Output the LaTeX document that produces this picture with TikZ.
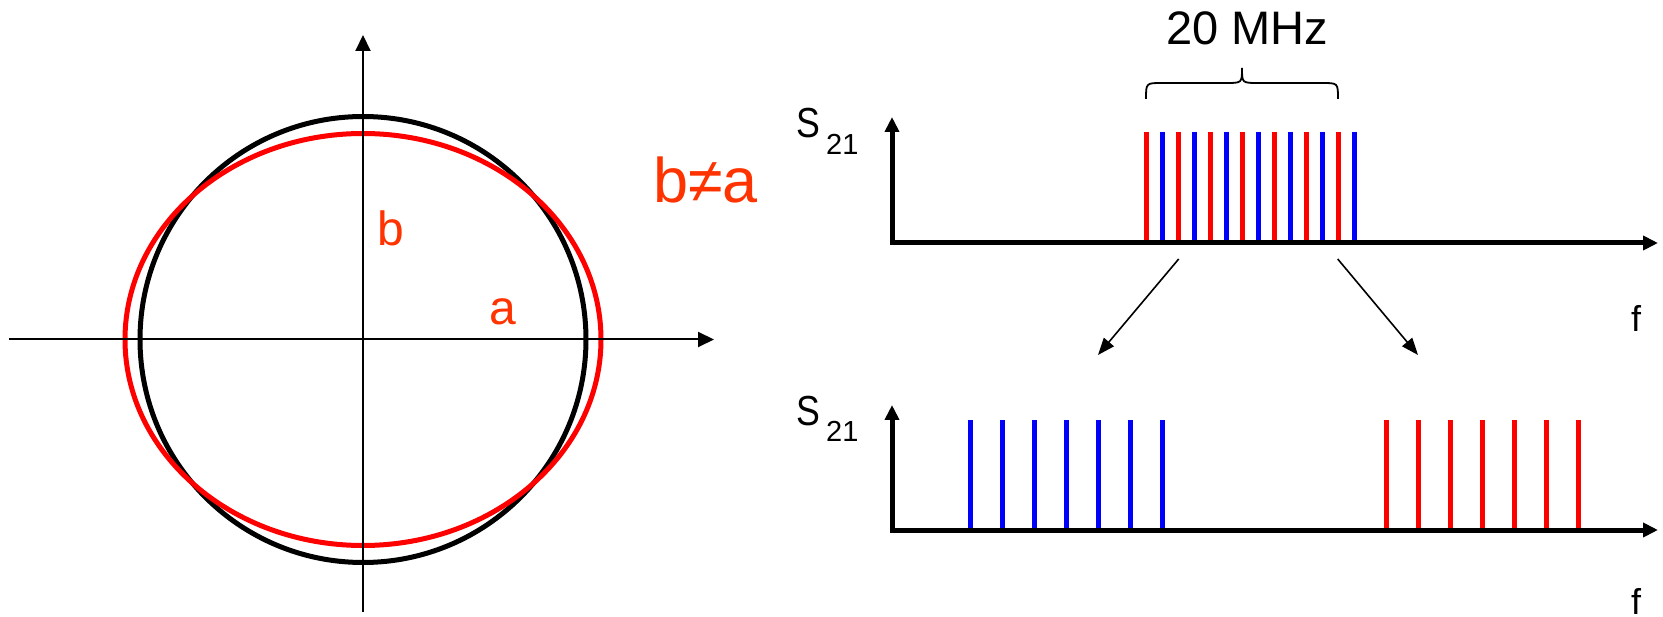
\documentclass[tikz,border=0pt]{standalone}
\usepackage{fontspec}
\setmainfont{Liberation Sans}
\usetikzlibrary{arrows.meta}
\definecolor{lblred}{RGB}{255,51,0}
\definecolor{ellred}{RGB}{255,0,0}
\definecolor{lineblue}{RGB}{0,0,255}
\begin{document}
\begin{tikzpicture}[x=1pt,y=-1pt,
  thinaxis/.style={line width=2pt,-{Triangle[length=16pt,width=15pt]}},
  thickaxis/.style={line width=5pt,line join=miter,{Triangle[length=15pt,width=14pt]}-{Triangle[length=15pt,width=14pt]}},
  redline/.style={ellred,line width=5pt},
  blueline/.style={lineblue,line width=5pt},
  lbl/.style={lblred,inner sep=0pt,anchor=base west},
  txt/.style={black,inner sep=0pt,anchor=base west},
  zoomarrow/.style={line width=1.6pt,-{Triangle[length=17pt,width=13pt]}},
  bracestyle/.style={line width=1.8pt}
]
\useasboundingbox (0,0) rectangle (1663,617);
% ---------- left panel ----------
\coordinate (LO) at (363,339.5);
\coordinate (Lleft) at (9,339.5);
\coordinate (Lright) at (714,339.5);
\coordinate (Ltop) at (363,35);
\coordinate (Lbot) at (363,612);
\draw[line width=5pt] (LO) circle[radius=223pt];
\draw[ellred,line width=5pt] (LO) ellipse[x radius=238pt,y radius=206pt];
\draw[thinaxis] (Lleft) -- (Lright);
\draw[thinaxis] (Lbot) -- (Ltop);
\node[lbl,font=\fontsize{48pt}{48pt}\selectfont] (lb) at (377,246) {b};
\node[lbl,font=\fontsize{48pt}{48pt}\selectfont] (la) at (489,325) {a};
\node[lbl,font=\fontsize{63pt}{63pt}\selectfont] (lba) at (653,203) {b≠a};
% ---------- top right panel ----------
\coordinate (T0) at (892,243);
\coordinate (Ttop) at (892,117);
\coordinate (Tright) at (1658,243);
\foreach \k in {0,...,6}{
  \draw[redline] (1146.7+32*\k,131.7) -- (1146.7+32*\k,243);
  \draw[blueline] (1162.7+32*\k,131.7) -- (1162.7+32*\k,243);
}
\draw[thickaxis] (Ttop) -- (T0) -- (Tright);
\draw[bracestyle] (1146,99) .. controls (1146,83) .. (1162,83) -- (1226,83)
  .. controls (1242,83) .. (1242,68) .. controls (1242,83) .. (1258,83)
  -- (1322,83) .. controls (1338,83) .. (1338,99);
\node[txt,anchor=base,font=\fontsize{47pt}{47pt}\selectfont] (mhz) at (1247.5,45) {20 MHz};
\node[txt,font=\fontsize{42pt}{42pt}\selectfont,xscale=0.85] (s1) at (796,138) {S};
\node[txt,font=\fontsize{29pt}{29pt}\selectfont] (s1sub) at (826,155) {21};
\node[txt,font=\fontsize{36pt}{36pt}\selectfont] (f1) at (1631,331.7) {f};
% ---------- zoom arrows ----------
\coordinate (A1s) at (1178.7,259);
\coordinate (A1e) at (1098,355);
\coordinate (A2s) at (1337.7,259);
\coordinate (A2e) at (1418,355);
\draw[zoomarrow] (A1s) -- (A1e);
\draw[zoomarrow] (A2s) -- (A2e);
% ---------- bottom right panel ----------
\coordinate (B0) at (892,530);
\coordinate (Btop) at (892,405);
\coordinate (Bright) at (1658,530);
\foreach \k in {0,...,6}{
  \draw[blueline] (970.5+32*\k,420) -- (970.5+32*\k,530);
  \draw[redline] (1386+32*\k,420) -- (1386+32*\k,530);
}
\draw[thickaxis] (Btop) -- (B0) -- (Bright);
\node[txt,font=\fontsize{42pt}{42pt}\selectfont,xscale=0.85] (s2) at (796,425) {S};
\node[txt,font=\fontsize{29pt}{29pt}\selectfont] (s2sub) at (826,442) {21};
\node[txt,font=\fontsize{36pt}{36pt}\selectfont] (f2) at (1631,614) {f};
\end{tikzpicture}
\end{document}
